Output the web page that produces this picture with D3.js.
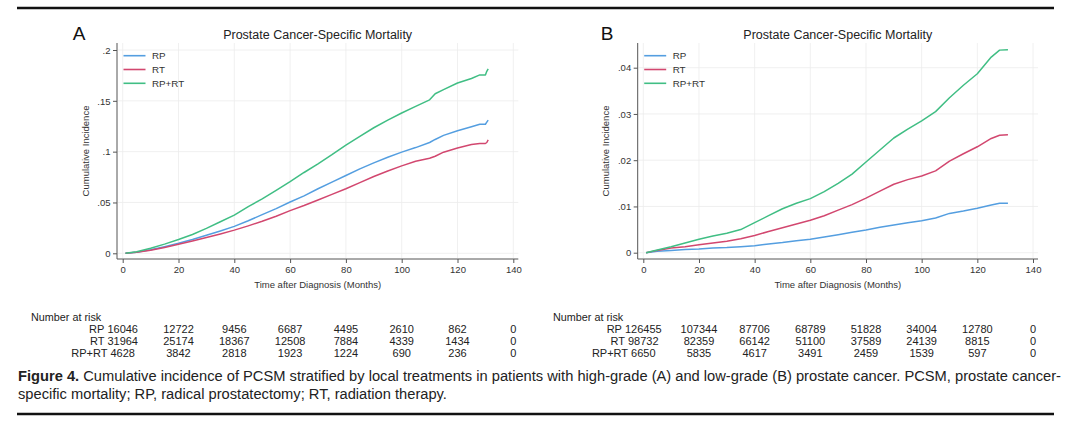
<!DOCTYPE html>
<html><head><meta charset="utf-8">
<script src="https://cdn.jsdelivr.net/npm/d3@7/dist/d3.min.js"></script>
<style>
html,body{margin:0;padding:0;background:#fff;}
svg{display:block;font-family:"Liberation Sans",Arial,sans-serif;}
</style></head>
<body><svg id="c" width="1080" height="424"></svg>
<script>
// ---------- DATA ----------
const seriesNames = ["RP", "RT", "RP+RT"];
const xTicks = [0, 20, 40, 60, 80, 100, 120, 140];
const yTicksA = [0, 0.05, 0.1, 0.15, 0.2];
const yTickLabelsA = ["0", ".05", ".1", ".15", ".2"];
const yTicksB = [0, 0.01, 0.02, 0.03, 0.04];
const yTickLabelsB = ["0", ".01", ".02", ".03", ".04"];

const monthsA = [1,5,10,15,20,25,30,35,40,45,50,55,60,65,70,75,80,85,90,95,100,105,110,112,115,120,125,128,130,130.5,131];
const rpA   = [0,.001,.0035,.0065,.0098,.0135,.0178,.022,.0265,.032,.038,.044,.0505,.0565,.0635,.07,.0765,.083,.089,.0945,.0995,.104,.109,.112,.116,.1205,.1245,.127,.127,.129,.131];
const rtA   = [0,.001,.003,.0058,.0088,.012,.0155,.019,.0228,.027,.0315,.0365,.042,.047,.0525,.058,.0635,.0695,.0755,.081,.086,.0905,.0935,.0955,.0995,.1035,.107,.108,.108,.109,.1115];
const rprtA = [0,.0015,.005,.009,.0135,.0185,.0245,.031,.0375,.046,.0535,.062,.0705,.0795,.088,.097,.1065,.115,.1235,.131,.138,.1445,.151,.157,.161,.1675,.172,.1755,.1755,.179,.1815];

const monthsB = [1,5,10,15,20,25,30,35,40,45,50,55,60,65,70,75,80,85,90,95,100,105,110,115,120,125,128,131];
const rpB   = [0,.0003,.0005,.0007,.0008,.0010,.0011,.0013,.0015,.0019,.0022,.0026,.0029,.0034,.0039,.0044,.0049,.0055,.0060,.0065,.0069,.0075,.0085,.0090,.0096,.0103,.0107,.0107];
const rtB   = [0,.0005,.0010,.0013,.0017,.0021,.0025,.0030,.0037,.0046,.0054,.0062,.0070,.0080,.0092,.0104,.0118,.0133,.0148,.0158,.0166,.0177,.0198,.0214,.0229,.0247,.0254,.0255];
const rprtB = [0,.0006,.0013,.0021,.0029,.0036,.0042,.0050,.0065,.0080,.0095,.0107,.0117,.0132,.0150,.0170,.0196,.0222,.0248,.0267,.0285,.0305,.0335,.0362,.0387,.0423,.0438,.0439];

const riskA_RP   = [16046,12722,9456,6687,4495,2610,862,0];
const riskA_RT   = [31964,25174,18367,12508,7884,4339,1434,0];
const riskA_RPRT = [4628,3842,2818,1923,1224,690,236,0];
const riskB_RP   = [126455,107344,87706,68789,51828,34004,12780,0];
const riskB_RT   = [98732,82359,66142,51100,37589,24139,8815,0];
const riskB_RPRT = [6650,5835,4617,3491,2459,1539,597,0];

const titleText = "Prostate Cancer-Specific Mortality";
const xTitle = "Time after Diagnosis (Months)";
const yTitle = "Cumulative Incidence";
const captionBold = "Figure 4.";
const captionLine1 = " Cumulative incidence of PCSM stratified by local treatments in patients with high-grade (A) and low-grade (B) prostate cancer. PCSM, prostate cancer-";
const captionLine2 = "specific mortality; RP, radical prostatectomy; RT, radiation therapy.";

// ---------- STYLE ----------
const colors = ["#549ee0", "#d2476f", "#40be84"];
const svg = d3.select("#c");

// rules
svg.append("line").attr("x1",17).attr("x2",1054).attr("y1",8).attr("y2",8).attr("stroke","#111").attr("stroke-width",2.4);
svg.append("line").attr("x1",17).attr("x2",1054).attr("y1",414).attr("y2",414).attr("stroke","#111").attr("stroke-width",2.4);

const panels = [
  {letter:"A", letterX:79, x0:122.7, x1:513.3, axisX:117, y0:253.3, yTop:50, yMax:0.2, yTicks:yTicksA, yLabels:yTickLabelsA,
   months:monthsA, series:[rpA, rtA, rprtA], risk:[riskA_RP, riskA_RT, riskA_RPRT], riskTitleX:31, yTitleX:86},
  {letter:"B", letterX:607, x0:643.3, x1:1033, axisX:637.7, y0:252.7, yTop:67.7, yMax:0.04, yTicks:yTicksB, yLabels:yTickLabelsB,
   months:monthsB, series:[rpB, rtB, rprtB], risk:[riskB_RP, riskB_RT, riskB_RPRT], riskTitleX:553, yTitleX:606}
];

panels.forEach(p => {
  const g = svg.append("g");
  const x = d3.scaleLinear().domain([0,140]).range([p.x0, p.x1]);
  const y = d3.scaleLinear().domain([0,p.yMax]).range([p.y0, p.yTop]);
  const plotTop = 43, plotBottom = 259, plotRight = p.x1 + 5;

  // grid
  g.selectAll(".gx").data(xTicks).join("line")
    .attr("x1", d=>x(d)).attr("x2", d=>x(d)).attr("y1", plotTop).attr("y2", plotBottom-1)
    .attr("stroke","#ececec").attr("stroke-width",0.8);
  g.selectAll(".gy").data(p.yTicks).join("line")
    .attr("x1", p.axisX+1).attr("x2", plotRight).attr("y1", d=>y(d)).attr("y2", d=>y(d))
    .attr("stroke","#ececec").attr("stroke-width",0.8);

  // x axis
  const xa = g.append("g").attr("transform",`translate(0,${plotBottom})`)
    .call(d3.axisBottom(x).tickValues(xTicks).tickSize(4).tickPadding(3).tickSizeOuter(0));
  xa.select(".domain").attr("d", `M${p.axisX},0H${plotRight}`);
  // y axis
  const ya = g.append("g").attr("transform",`translate(${p.axisX},0)`)
    .call(d3.axisLeft(y).tickValues(p.yTicks).tickFormat((d,i)=>p.yLabels[i]).tickSize(4).tickPadding(2.5).tickSizeOuter(0));
  ya.select(".domain").attr("d", `M0,${plotTop}V${plotBottom}`);
  [xa, ya].forEach(a => {
    a.select(".domain").attr("stroke","#555").attr("stroke-width",1);
    a.selectAll(".tick line").attr("stroke","#555");
    a.selectAll(".tick text").attr("fill","#333").style("font-size","9.5px").style("font-family","Liberation Sans, Arial, sans-serif");
  });
  ya.selectAll(".tick text").attr("dy","0.34em");

  // curves
  const line = d3.line().x((d,i)=>x(p.months[i])).y(d=>y(d));
  p.series.forEach((s,k) => {
    g.append("path").datum(s).attr("d", line).attr("fill","none")
      .attr("stroke", colors[k]).attr("stroke-width",1.5).attr("stroke-linejoin","round");
  });

  // legend
  seriesNames.forEach((n,k) => {
    const ly = 55.7 + k*13.8;
    g.append("line").attr("x1", p.axisX+6.5).attr("x2", p.axisX+28.5).attr("y1", ly).attr("y2", ly)
      .attr("stroke", colors[k]).attr("stroke-width",1.6);
    g.append("text").attr("x", p.axisX+35).attr("y", ly).attr("dy","0.35em")
      .style("font-size","9.8px").attr("fill","#333").text(n);
  });

  // titles
  g.append("text").attr("x", p.letterX).attr("y", 40).attr("text-anchor","middle")
    .style("font-size","19px").attr("fill","#111").text(p.letter);
  g.append("text").attr("x", (p.axisX+plotRight)/2).attr("y", 38.5).attr("text-anchor","middle")
    .style("font-size","12.5px").attr("fill","#222").text(titleText);
  g.append("text").attr("x", (p.axisX+plotRight)/2).attr("y", 287.5).attr("text-anchor","middle")
    .style("font-size","9.5px").attr("fill","#333").text(xTitle);
  g.append("text").attr("transform", `translate(${p.yTitleX},151) rotate(-90)`).attr("text-anchor","middle")
    .attr("dy","0.35em").style("font-size","9.5px").attr("fill","#333").text(yTitle);

  // number at risk
  g.append("text").attr("x", p.riskTitleX).attr("y", 321).style("font-size","10.8px").attr("fill","#222").text("Number at risk");
  p.risk.forEach((row,k) => {
    const ry = 332.5 + k*12.4;
    const nums = g.selectAll(null).data(row).join("text")
      .attr("x",(d,i)=>x(xTicks[i])).attr("y", ry).attr("text-anchor","middle")
      .style("font-size","11px").attr("fill","#222").text(d=>d);
    const firstW = nums.node().getComputedTextLength();
    g.append("text").attr("x", x(0) - firstW/2 - 3).attr("y", ry).attr("text-anchor","end")
      .style("font-size","11px").attr("fill","#222").text(seriesNames[k]);
  });
});

// caption
const cap = svg.append("text").attr("x",18).attr("y",381).style("font-size","14px").attr("fill","#222");
cap.append("tspan").style("font-weight","bold").text(captionBold);
cap.append("tspan").text(captionLine1);
const w = cap.node().getComputedTextLength();
const fs = 14 * 1044 / w;
cap.style("font-size", fs + "px");
svg.append("text").attr("x",18).attr("y",399).style("font-size", fs+"px").attr("fill","#222").text(captionLine2);
</script>
</body></html>
